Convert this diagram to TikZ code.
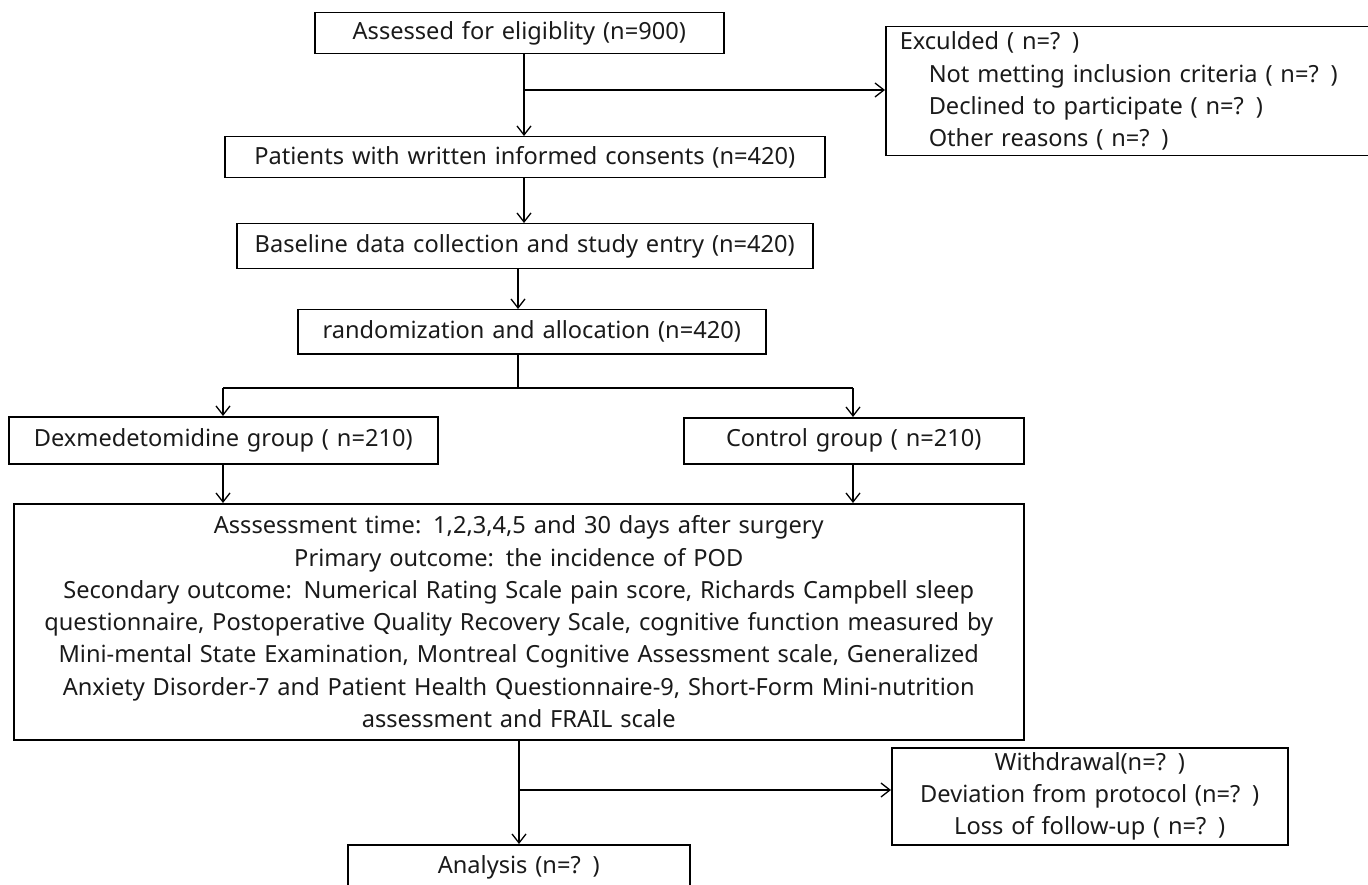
\documentclass[tikz,border=0pt]{standalone}
\usepackage{fontspec}
\setmainfont{Noto Sans}
\usetikzlibrary{arrows.meta}
\definecolor{txt}{HTML}{1A1A1A}
\begin{document}
\begin{tikzpicture}[x=1pt,y=-1pt,
  box/.style={draw,line width=1.5pt,inner xsep=0pt,inner ysep=0pt,anchor=north west,align=center,
    text=txt,font=\fontsize{23.6}{32.3}\selectfont},
  arr/.style={line width=1.5pt,-{Straight Barb[length=9pt,width=14pt,line width=1.3pt]}},
  ln/.style={line width=1.5pt}]
\useasboundingbox (0,0) rectangle (1368,885);

\node[box,text width=409pt,minimum height=41pt] (b1) at (314,12) {Assessed for eligiblity (n=900)};
\node[box,text width=462pt,inner xsep=14pt,align=left,minimum height=129pt] (ex) at (885,26)
  {Exculded ( n=? )\\\hspace*{29pt}Not metting inclusion criteria ( n=? )\\\hspace*{29pt}Declined to participate ( n=? )\\\hspace*{29pt}Other reasons ( n=? )};
\node[box,text width=600pt,minimum height=41pt] (b3) at (224,136) {Patients with written informed consents (n=420)};
\node[box,text width=576pt,minimum height=45pt] (b4) at (236,223) {Baseline data collection and study entry (n=420)};
\node[box,text width=468pt,minimum height=44pt] (b5) at (297,309) {randomization and allocation (n=420)};
\node[box,text width=429pt,minimum height=47pt] (dex) at (8,416) {Dexmedetomidine group ( n=210)};
\node[box,text width=340pt,minimum height=46pt] (ctl) at (683,417) {Control group ( n=210)};
\node[box,text width=1010pt,minimum height=236pt] (big) at (13,503)
  {Asssessment time: 1,2,3,4,5 and 30 days after surgery\\
   Primary outcome: the incidence of POD\\
   Secondary outcome: Numerical Rating Scale pain score, Richards Campbell sleep\\
   questionnaire, Postoperative Quality Recovery Scale, cognitive function measured by\\
   Mini-mental State Examination, Montreal Cognitive Assessment scale, Generalized\\
   Anxiety Disorder-7 and Patient Health Questionnaire-9, Short-Form Mini-nutrition\\
   assessment and FRAIL scale};
\node[box,text width=396pt,minimum height=97pt] (wd) at (891,747)
  {Withdrawal(n=? )\\Deviation from protocol (n=? )\\Loss of follow-up ( n=? )};
\node[box,text width=342pt,minimum height=46pt] (an) at (347,844) {Analysis (n=? )};

\coordinate (sA) at (524,90);
\coordinate (s2) at (518,0);
\coordinate (bL) at (223,388);
\coordinate (bR) at (853,388);
\coordinate (bW) at (519,790);

\draw[arr] (b1.south -| sA) -- (b3.north -| sA);
\draw[arr] (sA) -- (ex.west |- sA);
\draw[arr] (b3.south -| sA) -- (b4.north -| sA);
\draw[arr] (b4.south -| s2) -- (b5.north -| s2);
\draw[ln] (b5.south -| s2) -- (s2 |- bL);
\draw[ln] (bL) -- (bR);
\draw[arr] (bL) -- (dex.north -| bL);
\draw[arr] (bR) -- (ctl.north -| bR);
\draw[arr] (dex.south -| bL) -- (big.north -| bL);
\draw[arr] (ctl.south -| bR) -- (big.north -| bR);
\draw[arr] (big.south -| bW) -- (an.north -| bW);
\draw[arr] (bW) -- (wd.west |- bW);
\end{tikzpicture}
\end{document}
